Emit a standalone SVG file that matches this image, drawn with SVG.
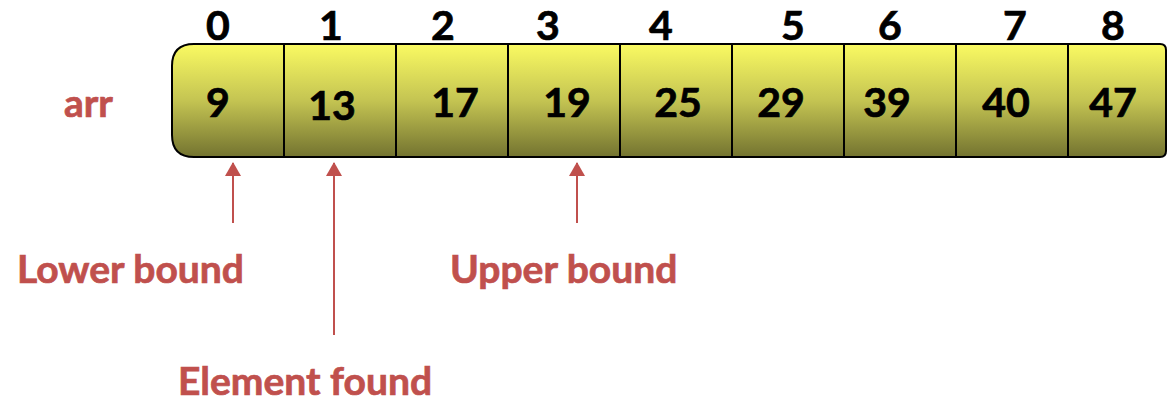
<svg xmlns="http://www.w3.org/2000/svg" width="1167" height="402" viewBox="0 0 1167 402">
<style>
.idx{font-family:Lato,"Open Sans","Liberation Sans",sans-serif;font-weight:bold;font-size:41px;fill:#000;stroke:#000;stroke-width:0.7;text-anchor:middle}
.val{font-family:Lato,"Open Sans","Liberation Sans",sans-serif;font-weight:bold;font-size:41px;fill:#000;stroke:#000;stroke-width:0.7;text-anchor:middle}
.lbl{font-family:Lato,"Open Sans","Liberation Sans",sans-serif;font-weight:bold;font-size:39px;fill:#C0504D;stroke:#C0504D;stroke-width:0.7}
.div{stroke:#000;stroke-width:2}
.conn{stroke:#C0504D;stroke-width:2;fill:none}
</style>
<defs>
<linearGradient id="g" x1="0" y1="0" x2="0" y2="1">
<stop offset="0" stop-color="#FAFA62"/>
<stop offset="0.5" stop-color="#C4C452"/>
<stop offset="1" stop-color="#737330"/>
</linearGradient>
<marker id="ah" markerWidth="14" markerHeight="16" refX="13" refY="8" orient="auto" markerUnits="userSpaceOnUse" viewBox="0 0 14 16">
<path d="M0,0 L14,8 L0,16 Z" fill="#C0504D"/>
</marker>
</defs>
<rect width="1167" height="402" fill="#fff"/>
<g id="array">
<path d="M194,44 H1160 Q1166,44 1166,50 V151 Q1166,157 1160,157 H194 Q172,157 172,135 V66 Q172,44 194,44 Z" fill="url(#g)" stroke="#000" stroke-width="2"/>
<line class="div" x1="284" y1="44" x2="284" y2="157"/>
<line class="div" x1="396" y1="44" x2="396" y2="157"/>
<line class="div" x1="508" y1="44" x2="508" y2="157"/>
<line class="div" x1="620" y1="44" x2="620" y2="157"/>
<line class="div" x1="732" y1="44" x2="732" y2="157"/>
<line class="div" x1="844" y1="44" x2="844" y2="157"/>
<line class="div" x1="956" y1="44" x2="956" y2="157"/>
<line class="div" x1="1068" y1="44" x2="1068" y2="157"/>
</g>
<g id="cell0"><text class="idx" x="218" y="40">0</text><text class="val" x="218" y="117">9</text></g>
<g id="cell1"><text class="idx" x="331" y="40">1</text><text class="val" x="332" y="120">13</text></g>
<g id="cell2"><text class="idx" x="443" y="40">2</text><text class="val" x="455" y="117">17</text></g>
<g id="cell3"><text class="idx" x="548" y="40">3</text><text class="val" x="567" y="117">19</text></g>
<g id="cell4"><text class="idx" x="661" y="40">4</text><text class="val" x="678" y="117">25</text></g>
<g id="cell5"><text class="idx" x="793" y="40">5</text><text class="val" x="781" y="117">29</text></g>
<g id="cell6"><text class="idx" x="890" y="40">6</text><text class="val" x="887" y="117">39</text></g>
<g id="cell7"><text class="idx" x="1015" y="40">7</text><text class="val" x="1006" y="117">40</text></g>
<g id="cell8"><text class="idx" x="1113" y="40">8</text><text class="val" x="1113" y="117">47</text></g>
<g id="arr-label"><text class="lbl" x="64" y="117">arr</text></g>
<g id="connectors">
<line class="conn" x1="233" y1="223" x2="233" y2="163" marker-end="url(#ah)"/>
<line class="conn" x1="334" y1="335" x2="334" y2="163" marker-end="url(#ah)"/>
<line class="conn" x1="577" y1="223" x2="577" y2="163" marker-end="url(#ah)"/>
</g>
<g id="lower-bound"><text class="lbl" x="17" y="283">Lower bound</text></g>
<g id="upper-bound"><text class="lbl" x="450" y="283">Upper bound</text></g>
<g id="element-found"><text class="lbl" x="178" y="395">Element found</text></g>
</svg>
